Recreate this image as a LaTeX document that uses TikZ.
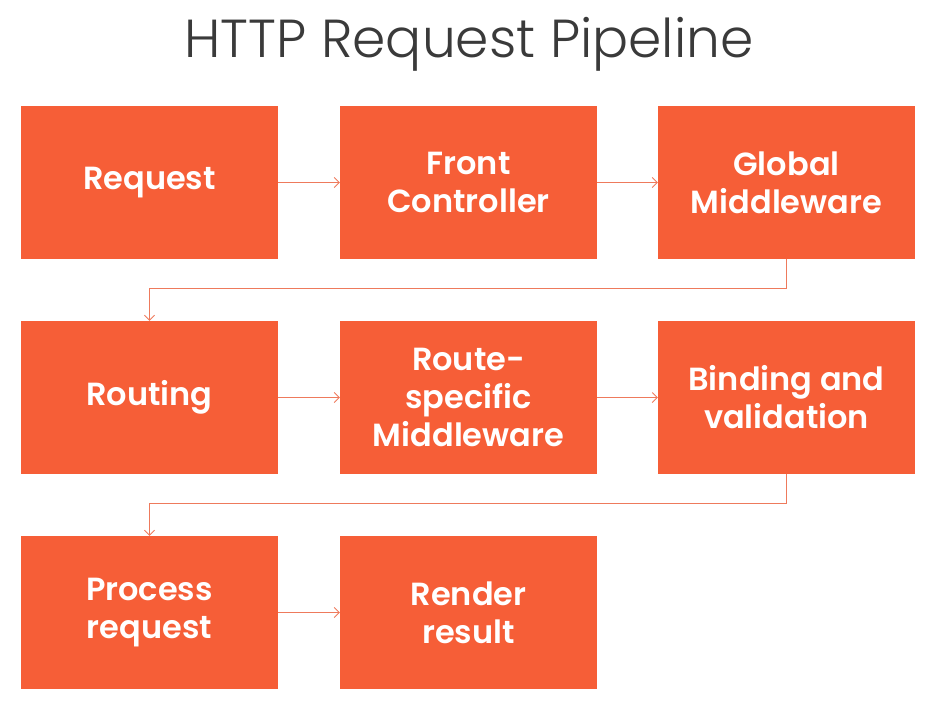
\documentclass[tikz,border=0pt]{standalone}
\usepackage{fontspec}
\setmainfont{Poppins}[BoldFont={Poppins SemiBold}]
\newfontfamily\titlefont{Poppins Light}
\usetikzlibrary{arrows.meta}
\definecolor{boxorange}{HTML}{F65E37}
\definecolor{linkorange}{HTML}{EE7A5C}
\definecolor{titlegray}{HTML}{3A3A3A}
\tikzset{
    stage/.style={fill=boxorange, minimum width=257pt, minimum height=153pt,
        inner sep=0pt, align=center, text=white, font=\fontsize{32}{38}\selectfont\bfseries},
    link/.style={draw=linkorange, line width=0.8pt, -{Straight Barb[length=5pt,width=10pt]}}
}
\begin{document}
\begin{tikzpicture}[x=1pt, y=-1pt]
            \useasboundingbox (0, 0) rectangle (939, 715);
            \node[text=titlegray, font=\titlefont\fontsize{53.5}{58}\selectfont] (title) at (469, 44) {HTTP Request Pipeline};
            % first row
            \node[stage] (request) at (149.5, 182.5) {Request};
            \node[stage] (front) at (468.5, 182.5) {Front\\Controller};
            \node[stage] (global) at (786.5, 182.5) {Global\\Middleware};
            % second row
            \node[stage] (routing) at (149.5, 397.5) {Routing};
            \node[stage] (route) at (468.5, 397.5) {Route-\\specific\\Middleware};
            \node[stage] (binding) at (786.5, 397.5) {Binding and\\validation};
            % third row
            \node[stage] (process) at (149.5, 612.5) {Process\\request};
            \node[stage] (render) at (468.5, 612.5) {Render\\result};
            \draw[link] (request) -- (front);
            \draw[link] (front) -- (global);
            \draw[link] (global.south) -- ++(0, 29) -| (routing.north);
            \draw[link] (routing) -- (route);
            \draw[link] (route) -- (binding);
            \draw[link] (binding.south) -- ++(0, 29) -| (process.north);
            \draw[link] (process) -- (render);
        \end{tikzpicture}
\end{document}
